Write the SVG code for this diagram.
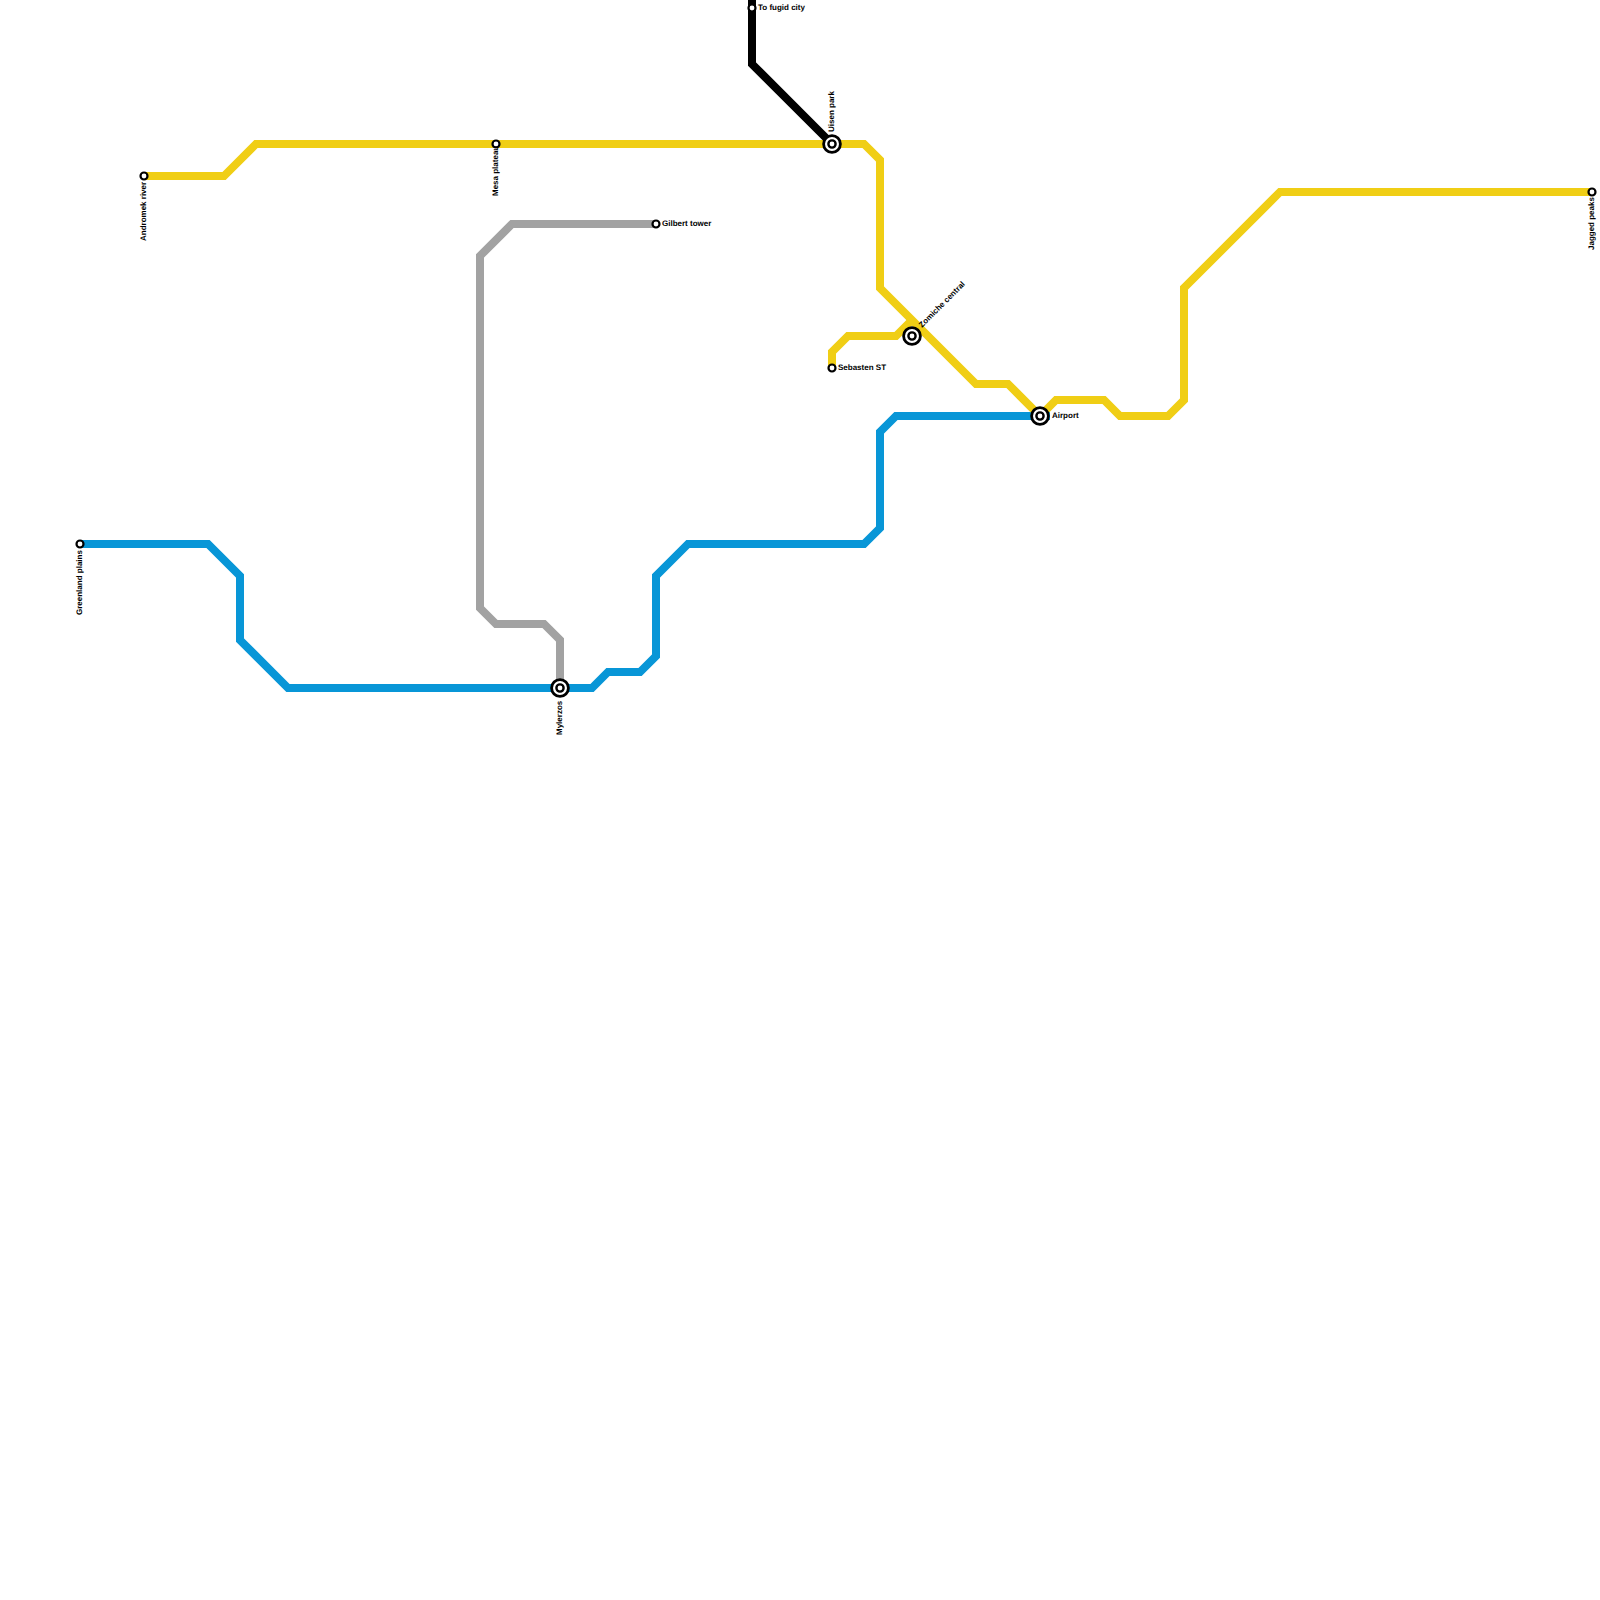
<svg xmlns="http://www.w3.org/2000/svg" width="1600" height="1600" viewBox="0 0 1600 1600">
<style>
.l{fill:none;stroke-width:8;stroke-linejoin:miter;stroke-linecap:butt}
.y{stroke:#f0ce15}.b{stroke:#0896d7}.g{stroke:#a2a2a2}.k{stroke:#000}
.s{fill:#fff;stroke:#000;stroke-width:2.200}
.t{fill:#fff;stroke:#000;stroke-width:2.800}
.c{fill:none;stroke:#000;stroke-width:2.400}
text{font-family:"Liberation Sans",Arial,sans-serif;font-size:8px;font-weight:bold;fill:#000;text-rendering:geometricPrecision}
</style>
<rect width="1600" height="1600" fill="#fff"/>
<g id="connectors">
<path class="l g" d="M656 224H512L480 256V608L496 624H544L560 640V688"/>
<path class="l b" d="M80 544H208L240 576V640L288 688H592L608 672H640L656 656V576L688 544H864L880 528V432L896 416H1050"/>
<path class="l y" d="M144 176H224L256 144H864L880 160V288L976 384H1008L1040 416L1056 400H1104L1120 416H1168L1184 400V288L1280 192H1592"/>
<path class="l y" d="M832 368V352L848 336H896L912 320"/>
<path class="l k" d="M752 0V64L832 144"/>
</g>
<g id="andromek"><circle class="s" cx="144" cy="176" r="3.500"/><text transform="translate(146 241) rotate(-90)">Andromek river</text></g>
<g id="mesa"><circle class="s" cx="496" cy="144" r="3.500"/><text transform="translate(498 196) rotate(-90)">Mesa plateau</text></g>
<g id="fugid"><circle class="s" cx="752" cy="8" r="3.500"/><text x="758" y="10">To fugid city</text></g>
<g id="gilbert"><circle class="s" cx="656" cy="224" r="3.500"/><text x="662" y="226">Gilbert tower</text></g>
<g id="sebasten"><circle class="s" cx="832" cy="368" r="3.500"/><text x="838" y="370">Sebasten ST</text></g>
<g id="greenland"><circle class="s" cx="80" cy="544" r="3.500"/><text transform="translate(82 615) rotate(-90)">Greenland plains</text></g>
<g id="jagged"><circle class="s" cx="1592" cy="192" r="3.500"/><text transform="translate(1594 250) rotate(-90)">Jagged peaks</text></g>
<g id="uisen"><circle class="t" cx="832" cy="144" r="8.400"/><circle class="c" cx="832" cy="144" r="3.600"/><text transform="translate(834 132) rotate(-90)">Uisen park</text></g>
<g id="zomiche"><circle class="t" cx="912" cy="336" r="8.400"/><circle class="c" cx="912" cy="336" r="3.600"/><text transform="translate(922 328) rotate(-45)">Zomiche central</text></g>
<g id="mylerzos"><circle class="t" cx="560" cy="688" r="8.400"/><circle class="c" cx="560" cy="688" r="3.600"/><text transform="translate(562 735) rotate(-90)">Mylerzos</text></g>
<g id="airport"><circle class="t" cx="1040" cy="416" r="8.400"/><circle class="c" cx="1040" cy="416" r="3.600"/><text x="1052" y="418">Airport</text></g>
</svg>
